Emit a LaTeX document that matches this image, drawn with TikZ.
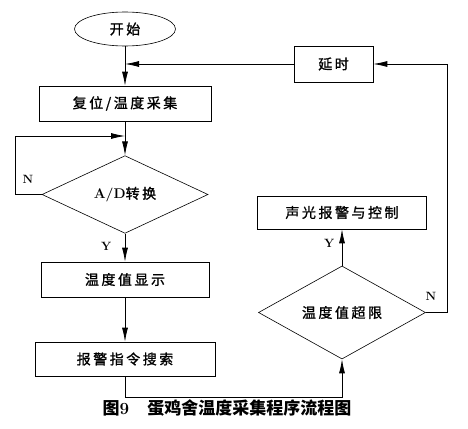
\documentclass[tikz,border=0pt]{standalone}
\usepackage{fontspec}
\newfontfamily\cjk{Noto Sans CJK SC}[LetterSpace=18,FakeBold=1.2]
\newfontfamily\cjkcap{Noto Sans CJK SC}
\usetikzlibrary{shapes.geometric,arrows.meta}
\begin{document}
\begin{tikzpicture}[x=1pt,y=-1pt,
  line width=0.8pt,
  txt/.style={font=\fontsize{14}{16}\selectfont\cjk},
  box/.style={draw,line width=0.6pt,rectangle,txt,inner sep=0pt},
  dia/.style={draw,line width=0.6pt,diamond,txt,inner sep=0pt},
  arr/.style={-{Latex[length=14pt,width=6pt]}},
  lbl/.style={font=\fontsize{12}{12}\selectfont\bfseries}
]
\useasboundingbox (0,0) rectangle (468,428);
% nodes
\node[draw,line width=0.6pt,ellipse,txt,minimum width=101pt,minimum height=34pt,inner sep=0pt] (start) at (125,29) {开始};
\node[box,minimum width=172pt,minimum height=35pt] (reset) at (125,103.5) {复位/温度采集};
\node[dia,minimum width=166pt,minimum height=65pt] (ad) at (125,194.5) {{\rmfamily\bfseries A/D}转换};
\node[box,minimum width=168pt,minimum height=35pt] (disp) at (125,279.5) {温度值显示};
\node[box,minimum width=180pt,minimum height=34pt] (search) at (125,359) {报警指令搜索};
\node[box,minimum width=79pt,minimum height=36pt] (delay) at (333.5,64) {延时};
\node[box,minimum width=169pt,minimum height=33pt] (alarm) at (342,212.5) {声光报警与控制};
\node[dia,minimum width=167pt,minimum height=67pt] (over) at (342,312.5) {温度值超限};
% helper coordinates
\coordinate (j1) at (start.south |- delay.west);
\coordinate (j2) at (125,136);
\coordinate (lft) at (15,136);
\coordinate (bot) at (125,397);
\coordinate (rgt) at (447,64);
% connectors
\draw[arr] (start.south) -- (reset.north);
\draw[arr] (delay.west) -- (j1);
\draw[arr] (reset.south) -- (ad.north);
\draw[arr] (ad.west) -| (lft) -- (j2);
\draw[arr] (ad.south) -- node[lbl,pos=0.45,left=10pt] {Y} (disp.north);
\draw[arr] (disp.south) -- (search.north);
\draw[arr] (search.south) -- (bot) -| (over.south);
\draw[arr] (over.north) -- node[lbl,pos=0.6,left=4pt] {Y} (alarm.south);
\draw[arr] (over.east) -| (rgt) -- (delay.east);
% labels
\node[lbl] (n1) at (28,179) {N};
\node[lbl] (n2) at (431,296) {N};
% caption
\node[font=\fontsize{17}{20}\selectfont\cjkcap\bfseries] (cap) at (227,408) {图{\rmfamily 9}\hspace{18pt}蛋鸡舍温度采集程序流程图};
\end{tikzpicture}
\end{document}
